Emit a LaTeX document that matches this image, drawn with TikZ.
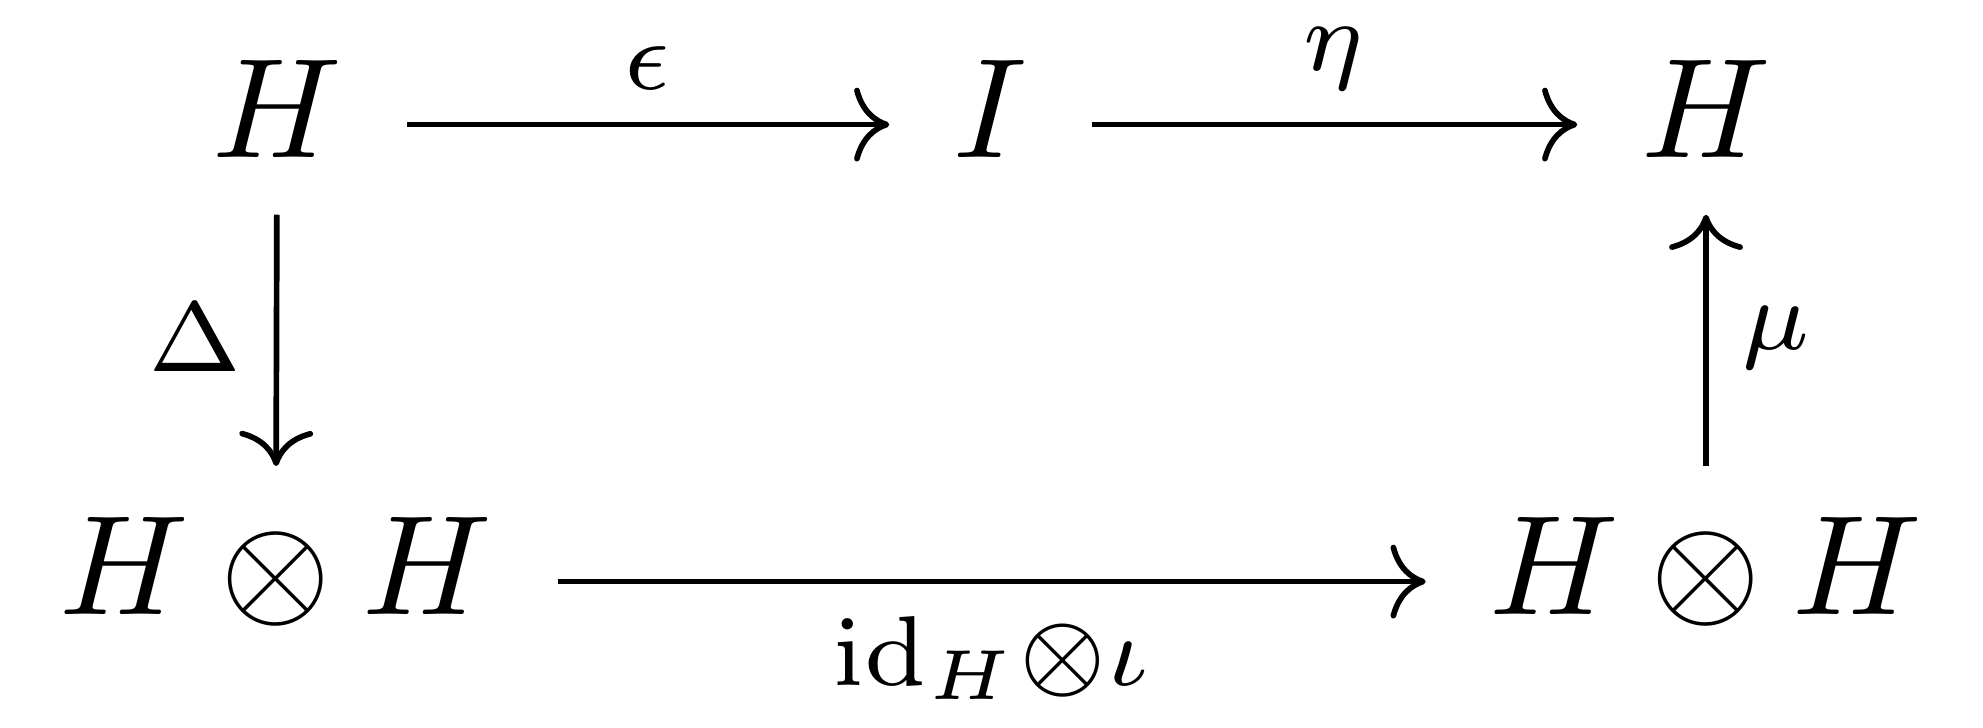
\documentclass[tikz,border=0pt]{standalone}
\usetikzlibrary{arrows.meta}
\begin{document}
\begin{tikzpicture}[x=0.07042pt,y=-0.07042pt,
  obj/.style={inner sep=0pt, outer sep=0pt, anchor=base},
  map/.style={draw, line width=0.4pt, -{Computer Modern Rightarrow}},
  hmap/.style={map, shorten <=4.6pt, shorten >=4.5pt},
  dmap/.style={map, shorten <=4pt, shorten >=3.65pt},
  umap/.style={map, shorten <=3.65pt, shorten >=4pt},
  lab/.style={inner sep=2.27pt}]
\useasboundingbox (0,0) rectangle (1983,728);
\node[obj] (H1) at (277,158) {$H$};
\node[obj] (I)  at (990,158) {$I$};
\node[obj] (H3) at (1706,158) {$H$};
\node[obj] (HH1) at (276,615) {$H\otimes H$};
\node[obj] (HH2) at (1706,615) {$H\otimes H$};
\draw[hmap] ([yshift=2.35pt]H1.base east) -- ([yshift=2.35pt]I.base west)
  node[lab, midway, above] (eps) {$\scriptstyle\epsilon$};
\draw[hmap] ([yshift=2.35pt]I.base east) -- ([yshift=2.35pt]H3.base west)
  node[lab, midway, above] (eta) {$\scriptstyle\eta$};
\draw[hmap] ([yshift=2.35pt]HH1.base east) -- ([yshift=2.35pt]HH2.base west)
  node[lab, midway, below] (idl) {$\scriptstyle\mathrm{id}_H\otimes\iota$};
\draw[dmap] (H1.south) -- (HH1.north)
  node[lab, midway, left] (del) {$\scriptstyle\Delta$};
\draw[umap] (HH2.north) -- (H3.south)
  node[lab, midway, right] (mu) {$\scriptstyle\mu$};
\end{tikzpicture}
\end{document}
